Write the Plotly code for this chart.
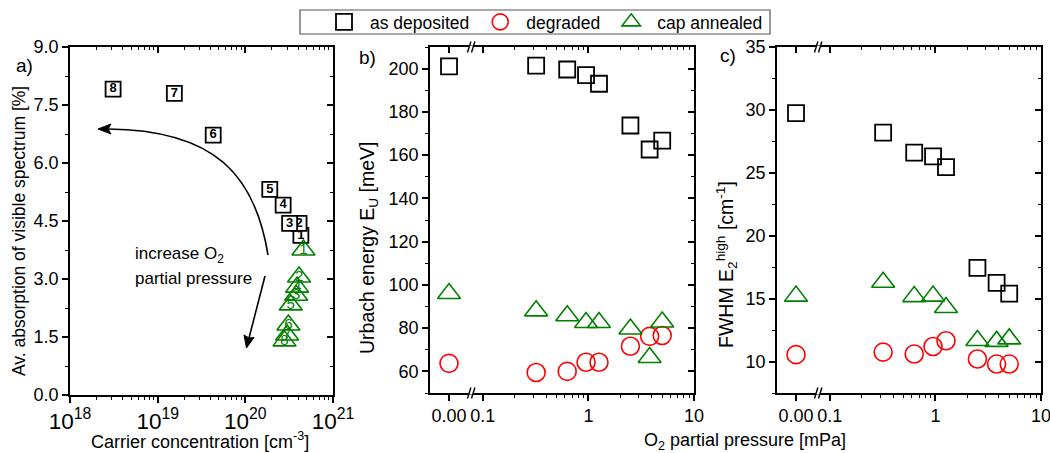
import math
import plotly.graph_objects as go

W, H = 1050, 453

# ---------------- data ----------------
# panel a: sample number, carrier concentration (cm^-3), absorption (%)
sample_no = ["1", "2", "3", "4", "5", "6", "7", "8"]
carrier_dep = [4.3e20, 4.1e20, 3.2e20, 2.7e20, 1.9e20, 4.3e19, 1.55e19, 3.1e18]
absorb_dep = [4.13, 4.44, 4.44, 4.91, 5.32, 6.72, 7.80, 7.91]
carrier_ann = [4.6e20, 4.1e20, 3.8e20, 3.9e20, 3.3e20, 3.1e20, 3.0e20, 2.8e20]
absorb_ann = [3.75, 3.05, 2.58, 2.79, 2.33, 1.81, 1.55, 1.40]

# panels b, c: O2 partial pressure (mPa)
pressure = [0.0, 0.32, 0.63, 0.95, 1.26, 2.5, 3.8, 5.0]
urbach_dep = [201.0, 201.4, 199.6, 197.0, 193.0, 173.7, 162.6, 166.7]
urbach_deg = [63.7, 59.5, 60.0, 64.2, 64.2, 71.6, 76.2, 76.6]
urbach_ann = [96.0, 88.0, 85.7, 82.6, 82.6, 79.6, 66.4, 82.8]
fwhm_dep = [29.74, 28.2, 26.6, 26.3, 25.45, 17.45, 16.25, 15.4]
fwhm_deg = [10.55, 10.75, 10.6, 11.2, 11.65, 10.2, 9.8, 9.8]
fwhm_ann = [15.2, 16.3, 15.16, 15.2, 14.3, 11.67, 11.6, 11.8]

series_names = ["as deposited", "degraded", "cap annealed"]
p_ticktext = ["0.00", "0.1", "1", "10"]

# ---------------- layout helpers ----------------
ZERO_POS = 10 ** -1.32          # where "0.00" is shown on the broken log axis
P_RANGE = [-1.5, 1.0]
BREAK_LOG = -1.11
FONT = "Liberation Sans, Arial, sans-serif"
GREEN = "#008000"
RED = "#FF0000"

def fx(px):
    return px / W

def fy(py):
    return 1 - py / H

dom_a = ([fx(70), fx(333)], [fy(395), fy(47)])
dom_b = ([fx(430), fx(694)], [fy(393), fy(47)])
dom_c = ([fx(777), fx(1041)], [fy(393), fy(47)])

p_plot = [ZERO_POS if p == 0 else p for p in pressure]

fig = go.Figure()

# panel a squares (white filled labelled boxes)
for i in range(len(sample_no)):
    fig.add_trace(go.Scatter(
        x=[carrier_dep[i]], y=[absorb_dep[i]], mode="markers+text",
        text=[sample_no[i]], textposition="middle center",
        textfont=dict(size=13, color="black", family=FONT, weight="bold"),
        marker=dict(symbol="square", size=15, color="white",
                    line=dict(color="black", width=1.8)),
        xaxis="x", yaxis="y", showlegend=False, hoverinfo="skip"))

fig.add_trace(go.Scatter(
    x=carrier_ann, y=absorb_ann, mode="markers+text", text=sample_no,
    textposition="middle center",
    textfont=dict(size=15, color=GREEN, family=FONT),
    marker=dict(symbol="triangle-up-open", size=20, color=GREEN,
                line=dict(color=GREEN, width=1.6)),
    xaxis="x", yaxis="y", showlegend=False, hoverinfo="skip"))

def add_series(ys, xa, ya, legend):
    styles = [
        dict(symbol="square-open", size=16, color="black", line=dict(color="black", width=1.8)),
        dict(symbol="circle-open", size=18, color=RED, line=dict(color=RED, width=1.6)),
        dict(symbol="triangle-up-open", size=20, color=GREEN, line=dict(color=GREEN, width=1.6)),
    ]
    for name, y, st in zip(series_names, ys, styles):
        fig.add_trace(go.Scatter(x=p_plot, y=y, mode="markers", name=name,
                                 marker=st, xaxis=xa, yaxis=ya,
                                 showlegend=legend))

add_series([urbach_dep, urbach_deg, urbach_ann], "x2", "y2", True)
add_series([fwhm_dep, fwhm_deg, fwhm_ann], "x3", "y3", False)

# empty traces for the mirror (top/right) axes
for k in (4, 5, 6):
    fig.add_trace(go.Scatter(x=[], y=[], xaxis=f"x{k}", yaxis=f"y{k}",
                             showlegend=False, hoverinfo="skip"))

base = dict(showline=True, linecolor="black", linewidth=1.5, ticks="outside",
            ticklen=6, tickwidth=1.5, tickcolor="black", showgrid=False,
            zeroline=False, automargin=False, ticklabeloverflow="allow",
            tickfont=dict(size=18, color="black", family=FONT))

def mirror(d):
    m = dict(d)
    m.update(ticks="inside", showticklabels=False)
    if "minor" in m:
        mm = dict(m["minor"])
        mm["ticks"] = "inside"
        m["minor"] = mm
    return m

minor_p = [v * s for s in (0.1, 1) for v in range(2, 10)]

xa = dict(base, type="log", range=[18, 21], dtick=1, exponentformat="power",
          minor=dict(ticks="outside", ticklen=3, tickwidth=1.2, dtick="D1",
                     tickcolor="black"))
ya = dict(base, range=[0, 9], dtick=1.5, tickformat=".1f",
          minor=dict(ticks="outside", ticklen=3, tickwidth=1.2, dtick=0.75,
                     tickcolor="black"))
xp = dict(base, type="log", range=P_RANGE, tickmode="array",
          tickvals=[ZERO_POS, 0.1, 1, 10], ticktext=p_ticktext,
          minor=dict(ticks="outside", ticklen=3, tickwidth=1.2,
                     tickmode="array", tickvals=minor_p, tickcolor="black"))
yb = dict(base, range=[50, 210], dtick=20,
          minor=dict(ticks="outside", ticklen=3, tickwidth=1.2, dtick=10,
                     tickcolor="black"))
yc = dict(base, range=[7.5, 35], dtick=5,
          minor=dict(ticks="outside", ticklen=3, tickwidth=1.2, dtick=2.5,
                     tickcolor="black"))

fig.update_layout(
    xaxis=dict(xa, domain=dom_a[0], anchor="y"),
    yaxis=dict(ya, domain=dom_a[1], anchor="x"),
    xaxis2=dict(xp, domain=dom_b[0], anchor="y2"),
    yaxis2=dict(yb, domain=dom_b[1], anchor="x2"),
    xaxis3=dict(xp, domain=dom_c[0], anchor="y3"),
    yaxis3=dict(yc, domain=dom_c[1], anchor="x3"),
    xaxis4=dict(mirror(xa), overlaying="x", side="top", anchor="y"),
    yaxis4=dict(mirror(ya), overlaying="y", side="right", anchor="x"),
    xaxis5=dict(mirror(xp), overlaying="x2", side="top", anchor="y2"),
    yaxis5=dict(mirror(yb), overlaying="y2", side="right", anchor="x2"),
    xaxis6=dict(mirror(xp), overlaying="x3", side="top", anchor="y3"),
    yaxis6=dict(mirror(yc), overlaying="y3", side="right", anchor="x3"),
)

# ---------------- shapes ----------------
shapes = []

def P(px, py):
    return f"{fx(px):.5f},{fy(py):.5f}"

# legend frame
shapes.append(dict(type="rect", xref="paper", yref="paper",
                   x0=fx(300), x1=fx(770), y0=fy(34), y1=fy(10),
                   line=dict(color="#555555", width=1.2), layer="below"))

# curved arrow (panel a)
shapes.append(dict(type="path", xref="paper", yref="paper",
                   path=f"M {P(268,255)} C {P(255,175)} {P(215,130)} {P(108,129)}",
                   line=dict(color="black", width=1.6)))
shapes.append(dict(type="path", xref="paper", yref="paper",
                   path=f"M {P(98,129)} L {P(111,124)} L {P(108,129)} L {P(111,134)} Z",
                   fillcolor="black", line=dict(color="black", width=1)))
# straight arrow (panel a)
shapes.append(dict(type="path", xref="paper", yref="paper",
                   path=f"M {P(265,276)} L {P(249,338)}",
                   line=dict(color="black", width=1.6)))
shapes.append(dict(type="path", xref="paper", yref="paper",
                   path=f"M {P(246.5,348)} L {P(244,335)} L {P(249,338)} L {P(254,337.5)} Z",
                   fillcolor="black", line=dict(color="black", width=1)))

# axis break marks for panels b and c
def brk_px(dom):
    x0, x1 = dom[0][0] * W, dom[0][1] * W
    return x0 + (BREAK_LOG - P_RANGE[0]) / (P_RANGE[1] - P_RANGE[0]) * (x1 - x0)

for dom in (dom_b, dom_c):
    cx = brk_px(dom)
    for ay in ((1 - dom[1][0]) * H, (1 - dom[1][1]) * H):
        shapes.append(dict(type="rect", xref="paper", yref="paper",
                           x0=fx(cx - 2), x1=fx(cx + 2), y0=fy(ay + 1.5), y1=fy(ay - 1.5),
                           fillcolor="white", line=dict(width=0)))
        for off in (-2, 2):
            shapes.append(dict(type="line", xref="paper", yref="paper",
                               x0=fx(cx + off - 1.7), y0=fy(ay + 5.5),
                               x1=fx(cx + off + 1.7), y1=fy(ay - 5.5),
                               line=dict(color="black", width=1.4)))

# ---------------- annotations ----------------
ann = []
def text(px, py, s, size=18, angle=0, xanchor="center", color="black"):
    ann.append(dict(x=fx(px), y=fy(py), xref="paper", yref="paper", text=s,
                    showarrow=False, textangle=angle, xanchor=xanchor,
                    yanchor="middle", font=dict(size=size, color=color, family=FONT)))

text(24, 65, "a)", size=19)
text(367, 58, "b)", size=19)
text(728, 56, "c)", size=19)
text(19, 231, "Av. absorption of visible spectrum [%]", size=17.5, angle=-90)
text(368, 248, "Urbach energy E<sub>U</sub> [meV]", size=19.5, angle=-90)
text(726, 265, "FWHM E<sub>2</sub><sup>high</sup> [cm<sup>-1</sup>]", size=19.5, angle=-90)
text(200, 440, "Carrier concentration [cm<sup>-3</sup>]")
text(745, 441, "O<sub>2</sub> partial pressure [mPa]")
text(133, 255, "increase O<sub>2</sub>", size=17, xanchor="left")
text(133, 278, "partial pressure", size=17, xanchor="left")

fig.update_layout(
    width=W, height=H, margin=dict(l=0, r=0, t=0, b=0, autoexpand=False),
    paper_bgcolor="white", plot_bgcolor="white",
    font=dict(family=FONT, color="black", size=18),
    shapes=shapes, annotations=ann,
    legend=dict(orientation="h", x=fx(318), y=fy(4), xanchor="left", yanchor="top",
                borderwidth=0, bgcolor="rgba(0,0,0,0)",
                itemwidth=42, font=dict(size=17.5, family=FONT, color="black"),
                tracegroupgap=0),
)

fig.write_html("out.html",
               config={"displayModeBar": False},
               post_script="document.body.style.margin='0';"
                           "document.body.style.overflow='hidden';")
